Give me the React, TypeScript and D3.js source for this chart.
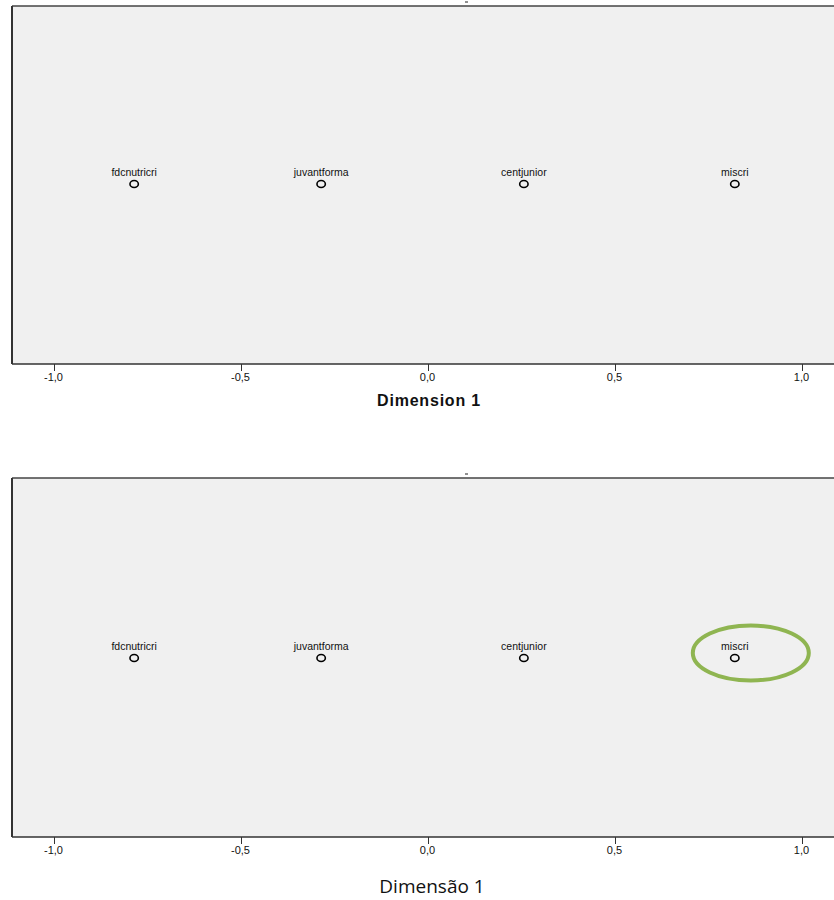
import React from "react";
import * as d3 from "d3";

const categories = ["fdcnutricri", "juvantforma", "centjunior", "miscri"];
const dim1Values = [-0.787, -0.287, 0.255, 0.819];
const tickValues = [-1.0, -0.5, 0.0, 0.5, 1.0];
const highlighted = ["miscri"];

const W = 834;
const H = 900;

const x = d3.scaleLinear().domain([-1, 1]).range([54.5, 802.5]);
const fmt = (v: number) => d3.format(".1f")(v).replace(".", ",").replace("−", "-");

type PanelProps = { top: number; bottom: number; pointY: number; title: string; titleX: number; titleY: number; titleStyle: any; highlight: boolean; dashY: number };

function Panel({ top, bottom, pointY, title, titleX, titleY, titleStyle, highlight, dashY }: PanelProps) {
  return (
    <g>
      <rect x={12} y={top} width={W - 12} height={bottom - top} fill="#f0f0f0" />
      <line x1={12} x2={W} y1={top} y2={top} stroke="#444" strokeWidth={1.5} />
      <line x1={12} x2={12} y1={top} y2={bottom} stroke="#333" strokeWidth={2} />
      <line x1={12} x2={W} y1={bottom} y2={bottom} stroke="#333" strokeWidth={1.5} />
      <line x1={465} x2={468} y1={dashY} y2={dashY} stroke="#222" strokeWidth={1} />
      {tickValues.map((t) => (
        <g key={t} transform={`translate(${x(t)},0)`}>
          <line y1={bottom} y2={bottom + 7} stroke="#333" strokeWidth={1} />
          <text x={-1} y={bottom + 17} textAnchor="middle" fontFamily="Liberation Sans, Arial, sans-serif" fontSize={11} fill="#111">
            {fmt(t)}
          </text>
        </g>
      ))}
      {categories.map((c, i) => (
        <g key={c} transform={`translate(${x(dim1Values[i])},${pointY})`}>
          <ellipse rx={4.2} ry={3.5} fill="none" stroke="#000" strokeWidth={1.6} />
          <text y={-8} textAnchor="middle" fontFamily="Liberation Sans, Arial, sans-serif" fontSize={10.5} fill="#111">
            {c}
          </text>
        </g>
      ))}
      {highlight &&
        categories.map((c, i) =>
          highlighted.includes(c) ? (
            <ellipse key={c} cx={x(dim1Values[i]) + 16} cy={pointY - 5} rx={58} ry={27.5} fill="none" stroke="#8fb551" strokeWidth={4} />
          ) : null
        )}
      <text x={titleX} y={titleY} textAnchor="middle" {...titleStyle}>
        {title}
      </text>
    </g>
  );
}

export default function App() {
  return (
    <svg width={W} height={H} style={{ position: "absolute", left: 0, top: 0, background: "#fff" }}>
      <Panel
        top={6}
        bottom={364}
        pointY={184}
        title="Dimension 1"
        titleX={429}
        titleY={406}
        titleStyle={{ fontFamily: "Liberation Sans, Arial, sans-serif", fontSize: 16, fontWeight: "bold", fill: "#111", letterSpacing: 0.8 }}
        highlight={false}
        dashY={2}
      />
      <Panel
        top={478}
        bottom={837}
        pointY={658}
        title="Dimensão 1"
        titleX={432}
        titleY={893}
        titleStyle={{ fontFamily: "Open Sans, Lato, sans-serif", fontSize: 19, fill: "#111" }}
        highlight={true}
        dashY={474}
      />
    </svg>
  );
}
